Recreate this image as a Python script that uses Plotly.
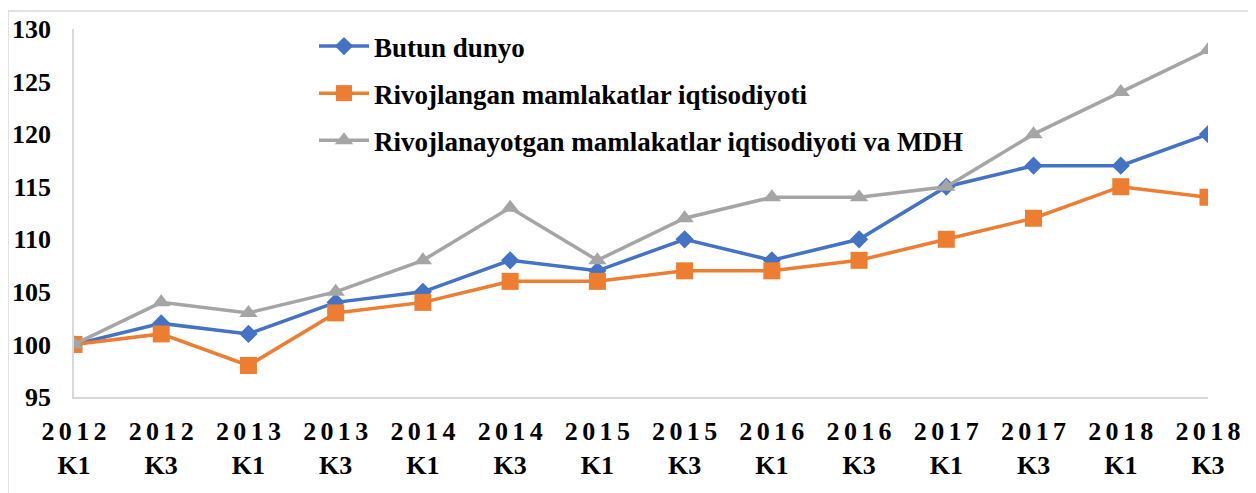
import plotly.graph_objects as go

categories = ["2012<br>K1", "2012<br>K3", "2013<br>K1", "2013<br>K3", "2014<br>K1", "2014<br>K3",
              "2015<br>K1", "2015<br>K3", "2016<br>K1", "2016<br>K3", "2017<br>K1", "2017<br>K3",
              "2018<br>K1", "2018<br>K3"]
butun_dunyo = [100, 102, 101, 104, 105, 108, 107, 110, 108, 110, 115, 117, 117, 120]
rivojlangan = [100, 101, 98, 103, 104, 106, 106, 107, 107, 108, 110, 112, 115, 114]
rivojlanayotgan = [100, 104, 103, 105, 108, 113, 108, 112, 114, 114, 115, 120, 124, 128]
y_ticks = [95, 100, 105, 110, 115, 120, 125, 130]

def spaced(lbl):
    top, bot = lbl.split("<br>")
    return "<b>" + "\u200a\u200a".join(top) + "</b><br><b>" + bot + "</b>"

tick_text = [spaced(c) for c in categories]
y_text = [f"<b>{v}</b>" for v in y_ticks]
xs = list(range(len(categories)))

FONT = "Liberation Serif, Times New Roman, serif"
OFF = 8  # page body margin
L, R, T, B = 74 - OFF, 48, 29 - OFF, 96
W, H = 1256 - OFF, 493 - OFF
pw, ph = W - L - R, H - T - B

fig = go.Figure()
series = [
    ("Butun dunyo", butun_dunyo, "#4472C4", "diamond", 14),
    ("Rivojlangan mamlakatlar iqtisodiyoti", rivojlangan, "#ED7D31", "square", 17),
    ("Rivojlanayotgan mamlakatlar iqtisodiyoti va MDH", rivojlanayotgan, "#A5A5A5", "triangle-up", 16),
]
for i, (name, vals, col, sym, sz) in enumerate(series):
    fig.add_trace(go.Scatter(
        x=xs, y=vals, name=f"<b>{name}</b>", mode="lines+markers",
        line=dict(color=col, width=3.5),
        marker=dict(color=col, symbol=sym, size=sz),
        legendgroup=f"g{i}",
    ))

def px_x(p):
    return (p - OFF - L) / pw

def px_y(p):
    return (H - B - (p - OFF)) / ph

fig.update_layout(
    width=W, height=H,
    margin=dict(l=L, r=R, t=T, b=B, autoexpand=False),
    paper_bgcolor="white", plot_bgcolor="white",
    font=dict(family=FONT, size=26, color="black"),
    showlegend=True,
    legend=dict(
        x=px_x(314), y=px_y(22), xanchor="left", yanchor="top",
        font=dict(family=FONT, size=27, color="black"),
        bgcolor="rgba(0,0,0,0)", tracegroupgap=9, itemwidth=50,
    ),
    xaxis=dict(
        tickmode="array", tickvals=xs, ticktext=tick_text,
        range=[0, len(categories) - 1], showgrid=False, zeroline=False,
        showline=True, linecolor="#D9D9D9", linewidth=1.5, ticks="",
        ticklabelstandoff=10,
        tickfont=dict(family=FONT, size=26, color="black"),
    ),
    yaxis=dict(
        tickmode="array", tickvals=y_ticks, ticktext=y_text, range=[95, 130],
        showgrid=False, zeroline=False, showline=True, linecolor="#D9D9D9",
        linewidth=1.5, ticks="", ticklabelstandoff=16,
        tickfont=dict(family=FONT, size=26, color="black"),
    ),
)

fig.add_shape(type="rect", xref="paper", yref="paper",
              x0=px_x(8), x1=px_x(1300),
              y0=px_y(540), y1=px_y(11),
              line=dict(color="#D9D9D9", width=1.5), fillcolor="rgba(0,0,0,0)", layer="below")

fig.write_html("out.html")
